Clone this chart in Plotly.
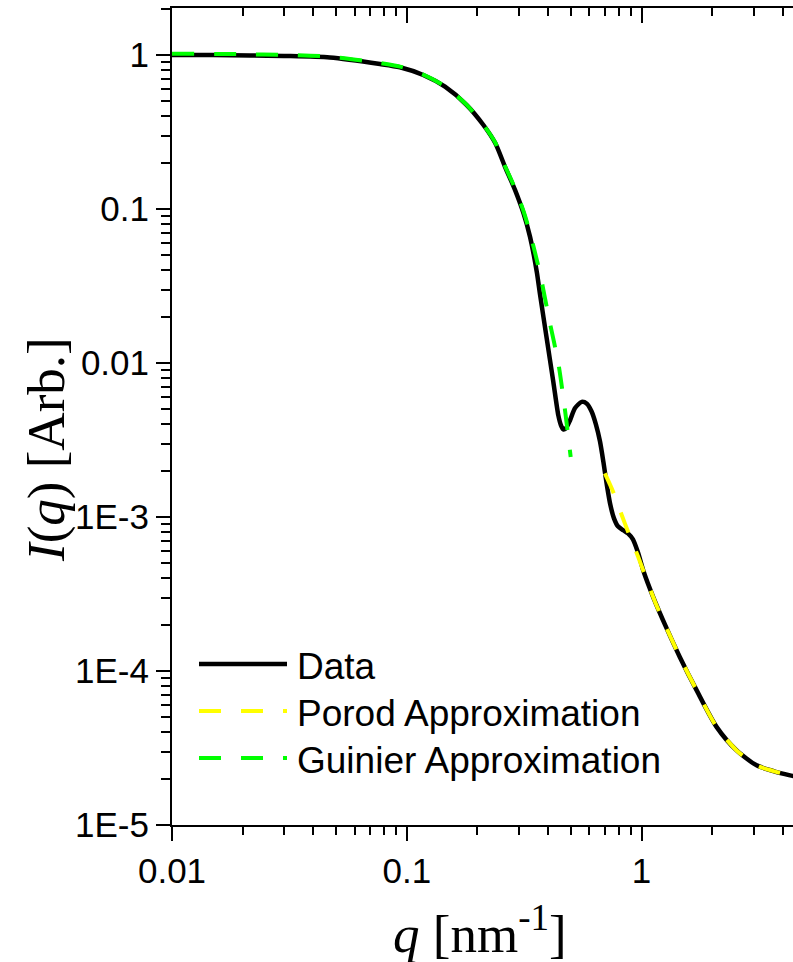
import plotly.graph_objects as go

# ---------------- data ----------------
q_data = [0.01, 0.015, 0.0215, 0.03, 0.047, 0.0769, 0.0935, 0.1175, 0.1455, 0.180,
          0.212, 0.238, 0.262, 0.289, 0.314, 0.335, 0.358, 0.369, 0.394, 0.421,
          0.442, 0.4537, 0.464, 0.4764, 0.496, 0.520, 0.556, 0.585, 0.612, 0.639,
          0.665, 0.688, 0.713, 0.737, 0.763, 0.793, 0.836, 0.875, 0.919, 0.968,
          1.016, 1.122, 1.279, 1.458, 1.717, 2.09, 2.54, 3.09, 3.64, 4.29, 4.55]
I_data = [1.0, 0.998, 0.993, 0.985, 0.963, 0.874, 0.832, 0.741, 0.622, 0.473,
          0.351, 0.268, 0.188, 0.133, 0.094, 0.0659, 0.0389, 0.0282, 0.0146, 0.00752,
          0.00457, 0.00394, 0.00371, 0.00377, 0.00425, 0.00508, 0.00559, 0.00544, 0.00486, 0.0040,
          0.0031, 0.00227, 0.00158, 0.00119, 0.00098, 0.00087, 0.00082, 0.000783, 0.000716, 0.000581,
          0.000451, 0.000301, 0.000189, 0.0001225, 7.48e-5, 4.32e-5, 3.05e-5, 2.44e-5, 2.24e-5, 2.10e-5, 2.06e-5]

q_guinier = [0.01, 0.02, 0.03, 0.047, 0.077, 0.0935, 0.1175, 0.1455, 0.18, 0.212,
             0.238, 0.262, 0.289, 0.314, 0.335, 0.369, 0.407, 0.442, 0.472, 0.499]
I_guinier = [1.02, 1.012, 1.0, 0.975, 0.885, 0.84, 0.745, 0.625, 0.474, 0.352,
             0.27, 0.19, 0.136, 0.097, 0.0697, 0.0383, 0.0182, 0.00997, 0.00494, 0.00245]

q_porod = [0.698, 0.758, 0.823, 0.877, 0.968, 1.034, 1.141, 1.279, 1.458, 1.717,
           2.09, 2.54, 3.09, 3.64, 4.29, 4.55]
I_porod = [0.00192, 0.00145, 0.00103, 0.000799, 0.000550, 0.000418, 0.000282, 0.000189, 0.0001225, 7.48e-5,
           4.32e-5, 3.05e-5, 2.44e-5, 2.24e-5, 2.10e-5, 2.06e-5]

x_tickvals = [0.01, 0.1, 1]
x_ticktext = ["0.01", "0.1", "1"]
y_tickvals = [1e-5, 1e-4, 1e-3, 0.01, 0.1, 1]
y_ticktext = ["1E-5", "1E-4", "1E-3", "0.01", "0.1", "1"]

legend_names = ["Data", "Porod Approximation", "Guinier Approximation"]

# ---------------- layout geometry ----------------
W, H = 793, 962
L, R, T, B = 172, 0, 8, 137
PW, PH = W - L - R, H - T - B

def px_x(p):
    return (p - L) / PW

def px_y(p):
    return (H - B - p) / PH

x_minor = [m * 10.0 ** e for e in range(-2, 1) for m in range(2, 10)]
y_minor = [m * 10.0 ** e for e in range(-5, 1) for m in range(2, 10)]

SANS = "Liberation Sans, Arial, sans-serif"
SERIF = "Liberation Serif, Times New Roman, serif"

fig = go.Figure()
DASH = "22px,20px"
SM = 0.7
fig.add_trace(go.Scatter(x=q_data, y=I_data, mode="lines", name=legend_names[0],
                         line=dict(color="black", width=4.5, shape="spline", smoothing=SM),
                         showlegend=False))
fig.add_trace(go.Scatter(x=q_porod, y=I_porod, mode="lines", name=legend_names[1],
                         line=dict(color="#FFFF00", width=4, dash=DASH, shape="spline", smoothing=SM),
                         showlegend=False))
fig.add_trace(go.Scatter(x=q_guinier, y=I_guinier, mode="lines", name=legend_names[2],
                         line=dict(color="#00FF00", width=4, dash=DASH, shape="spline", smoothing=SM),
                         showlegend=False))

xrange = [-2, 0.645]
yrange = [-5, 0.305]

fig.update_layout(
    width=W, height=H,
    margin=dict(l=L, r=R, t=T, b=B, pad=0),
    paper_bgcolor="white", plot_bgcolor="white",
    xaxis=dict(type="log", range=xrange, showgrid=False, zeroline=False,
               showline=True, linecolor="black", linewidth=2,
               ticks="outside", ticklen=14, tickwidth=2, tickcolor="black",
               tickmode="array", tickvals=x_tickvals, ticktext=x_ticktext,
               tickfont=dict(family=SANS, size=35, color="black"),
               minor=dict(ticks="outside", ticklen=8, tickwidth=2, tickcolor="black",
                          tickmode="array", tickvals=x_minor, showgrid=False)),
    xaxis2=dict(type="log", range=xrange, overlaying="x", side="top", anchor="y",
                showgrid=False, zeroline=False, showline=True, linecolor="black", linewidth=2,
                ticks="inside", ticklen=15, tickwidth=2, tickcolor="black",
                tickmode="array", tickvals=x_tickvals, showticklabels=False,
                minor=dict(ticks="inside", ticklen=8, tickwidth=2, tickcolor="black",
                           tickmode="array", tickvals=x_minor, showgrid=False)),
    yaxis=dict(type="log", range=yrange, showgrid=False, zeroline=False,
               showline=True, linecolor="black", linewidth=2,
               ticks="outside", ticklen=14, tickwidth=2, tickcolor="black",
               tickmode="array", tickvals=y_tickvals, ticktext=y_ticktext,
               tickfont=dict(family=SANS, size=35, color="black"),
               minor=dict(ticks="outside", ticklen=9, tickwidth=2, tickcolor="black",
                          tickmode="array", tickvals=y_minor, showgrid=False)),
    showlegend=False,
)
# invisible trace to activate the top (mirror) axis
fig.add_trace(go.Scatter(x=[q_data[0]], y=[I_data[0]], xaxis="x2", mode="markers",
                         marker=dict(opacity=0), showlegend=False, hoverinfo="skip"))

annotations = [
    dict(text="<i>q</i> [nm<sup>-1</sup>]", x=px_x(480), y=px_y(930), xref="paper", yref="paper",
         xanchor="center", yanchor="middle", showarrow=False,
         font=dict(family=SERIF, size=53, color="black")),
    dict(text="<i>I</i>(<i>q</i>) [Arb.]", x=px_x(47), y=px_y(450), xref="paper", yref="paper",
         xanchor="center", yanchor="middle", showarrow=False, textangle=-90,
         font=dict(family=SERIF, size=53, color="black")),
]

# legend drawn in the plot area
leg_rows = [664, 711, 758]
leg_styles = [dict(color="black", width=4.5), dict(color="#FFFF00", width=4, dash=DASH),
              dict(color="#00FF00", width=4, dash=DASH)]
shapes = []
for name, yy, st in zip(legend_names, leg_rows, leg_styles):
    shapes.append(dict(type="line", xref="paper", yref="paper",
                       x0=px_x(199), x1=px_x(287), y0=px_y(yy), y1=px_y(yy), line=st))
    annotations.append(dict(text=name, x=px_x(295), y=px_y(yy + 2), xref="paper", yref="paper",
                            xanchor="left", yanchor="middle", showarrow=False,
                            font=dict(family=SANS, size=37, color="black")))

fig.update_layout(annotations=annotations, shapes=shapes)
fig.write_html("out.html")
